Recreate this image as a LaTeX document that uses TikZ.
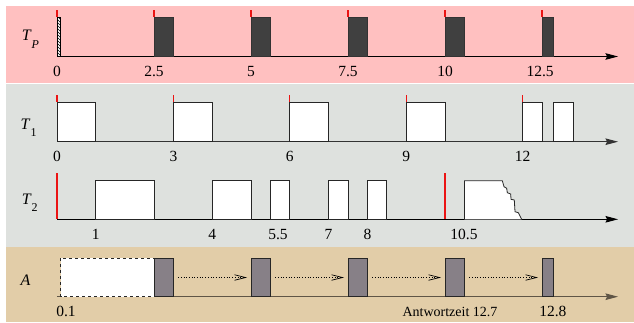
\documentclass[tikz,border=0pt]{standalone}
\usepackage{fontspec}
\setmainfont{Liberation Serif}
\usetikzlibrary{arrows.meta,patterns}
\definecolor{bandP}{RGB}{255,192,192}
\definecolor{bandG}{RGB}{222,225,222}
\definecolor{bandA}{RGB}{226,205,168}
\definecolor{darkbox}{RGB}{64,64,64}
\definecolor{aboxc}{RGB}{135,128,135}
\definecolor{aaxis}{RGB}{95,85,70}
\definecolor{tickred}{RGB}{235,20,20}
\tikzset{
  axisline/.style={line width=1.1pt,-{Stealth[length=12.5pt,width=6.5pt,inset=1.5pt]}},
  pbox/.style={draw=black!80,fill=darkbox,line width=0.8pt},
  wbox/.style={draw=black!85,fill=white,line width=0.8pt},
  abox/.style={draw=black!85,fill=aboxc,line width=0.8pt,inner sep=0pt,outer sep=0pt,minimum height=38.4pt,minimum width=19.4pt},
  redtick/.style={draw=tickred,line width=1.1pt},
  num/.style={font=\fontsize{15.5}{16}\selectfont,anchor=base,inner sep=0pt},
  rowlab/.style={font=\fontsize{16}{17}\selectfont,anchor=base west,inner sep=0pt},
  darrow/.style={dotted,line width=0.7pt,-{Straight Barb[length=11pt,width=5.5pt]},shorten <=4.7pt,shorten >=4pt}
}
\newcommand\rowname[2]{\textit{#1}\raisebox{-7.5pt}{\fontsize{12}{12}\selectfont #2}}
\begin{document}
\begin{tikzpicture}[x=38.8pt,y=-1pt]
\useasboundingbox (-1.4691,0) rectangle (14.8711,322);
\fill[white] (-1.4691,0) rectangle (14.8711,322);
\fill[bandP] (-1.3144,6) rectangle (14.8711,83);
\fill[bandG] (-1.3144,84) rectangle (14.8711,247);
\fill[bandA] (-1.3144,247) rectangle (14.8711,322);

% ---------- T_P ----------
\node[rowlab] (lp) at (-0.91,40.7) {\rowname{T}{\textit{P}}};
\draw[axisline] (0,56.5) -- (14.46,56.5);
\fill[white] (0,17.3) rectangle (0.1,56.5);
\fill[pattern=north west lines] (0,17.3) rectangle (0.1,56.5);
\draw[black,line width=0.8pt] (0,17.3) rectangle (0.1,56.5);
\foreach \t in {2.5,5,7.5,10} \draw[pbox] (\t,17.3) rectangle ++(0.5,39.2);
\draw[pbox] (12.5,17.3) rectangle ++(0.3,39.2);
\foreach \t in {0,2.5,5,7.5,10,12.5} \draw[redtick] (\t,10) -- (\t,17.3);
\foreach \t/\s in {0/0,2.5/2.5,5/5,7.5/7.5,10/10,12.45/12.5}
  \node[num] (np\s) at (\t,76.7) {\s};

% ---------- T_1 ----------
\node[rowlab] (l1) at (-0.94,129.3) {\rowname{T}{1}};
\draw[axisline,black!80] (0,141.7) -- (14.46,141.7);
\foreach \t in {0,3,6,9} \draw[wbox] (\t,102.3) rectangle ++(1,39.4);
\draw[wbox] (12,102.3) rectangle ++(0.5,39.4);
\draw[wbox] (12.8,102.3) rectangle ++(0.5,39.4);
\foreach \t in {0,3,6,9,12} \draw[redtick] (\t,95) -- (\t,102.3);
\foreach \t in {0,3,6,9,12} \node[num] (n1\t) at (\t,161) {\t};

% ---------- T_2 ----------
\node[rowlab] (l2) at (-0.91,204) {\rowname{T}{2}};
\draw[axisline] (0,219.3) -- (14.46,219.3);
\draw[wbox] (1,180.7) rectangle ++(1.5,38.6);
\draw[wbox] (4,180.7) rectangle ++(1,38.6);
\foreach \t in {5.5,7,8} \draw[wbox] (\t,180.7) rectangle ++(0.5,38.6);
\draw[wbox] (10.5,219.3) -- (10.5,180.7) -- (11.477,180.7) -- (11.521,186.7) -- (11.590,188.3)
  -- (11.606,192.7) -- (11.693,194) -- (11.701,199.3) -- (11.786,200) -- (11.804,211.7)
  -- (11.889,212.7) -- (11.977,219.3);
\draw[redtick] (0,173.3) -- (0,218.7);
\draw[redtick] (10,173.3) -- (10,218.7);
\foreach \t/\s/\n in {1/1/a,4/4/b,5.696/5.5/c,7/7/d,8/8/e,10.49/10.5/f}
  \node[num] (n2\n) at (\t,239) {\s};

% ---------- A ----------
\node[rowlab] (la) at (-0.94,285.5) {\textit{A}};
\draw[axisline,aaxis] (0,296.7) -- (14.46,296.7);
\draw[fill=white,draw=black!85,dashed,line width=0.8pt] (0.1,258.3) rectangle (2.5,296.7);
\node[abox] (a1) at (2.75,277.5) {};
\node[abox] (a2) at (5.25,277.5) {};
\node[abox] (a3) at (7.75,277.5) {};
\node[abox] (a4) at (10.25,277.5) {};
\node[abox,minimum width=11.64pt] (a5) at (12.65,277.5) {};
\draw[darrow] (a1.east) -- (a2.west);
\draw[darrow] (a2.east) -- (a3.west);
\draw[darrow] (a3.east) -- (a4.west);
\draw[darrow] (a4.east) -- (a5.west);
\node[num] (na1) at (0.232,316) {0.1};
\node[num,font=\fontsize{14}{15}\selectfont] (na2) at (10.129,316) {Antwortzeit 12.7};
\node[num] (na3) at (12.78,316) {12.8};
\end{tikzpicture}
\end{document}
